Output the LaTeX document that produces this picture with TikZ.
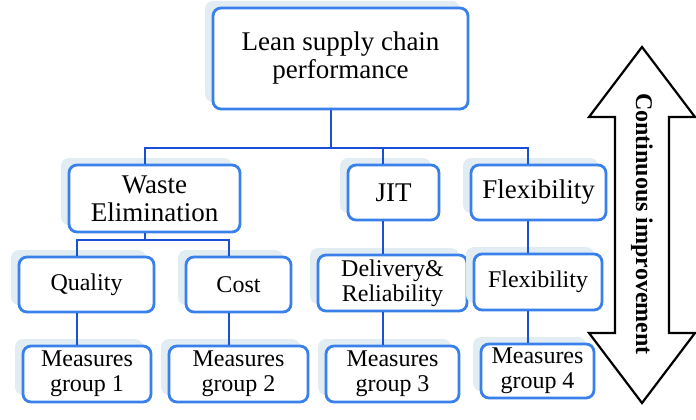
\documentclass[tikz,border=0pt]{standalone}
\usepackage{fontspec}
\setmainfont{Liberation Serif}
\usetikzlibrary{shadows}
\definecolor{boxblue}{RGB}{58,128,235}
\definecolor{connblue}{RGB}{26,80,214}
\definecolor{shadowc}{RGB}{225,236,243}
\tikzset{
  box/.style={draw=boxblue, line width=2.8pt, rounded corners=8pt, fill=white,
    inner sep=0pt, align=center,
    general shadow={fill=shadowc, draw=none, shadow xshift=-8pt, shadow yshift=7pt}},
  big/.style={font=\fontsize{27}{28}\selectfont},
  small/.style={font=\fontsize{24}{25}\selectfont},
  conn/.style={draw=connblue, line width=2.8pt},
}
\begin{document}
\begin{tikzpicture}[x=1pt,y=-1pt]
\useasboundingbox (0,0) rectangle (696,420);
% boxes
\node[box,big,minimum width=255pt,minimum height=101pt] (top) at (340.5,58.5) {Lean supply chain\\performance};
\node[box,big,minimum width=171pt,minimum height=67pt] (waste) at (154.5,198.5) {Waste\\Elimination};
\node[box,big,minimum width=91pt,minimum height=55pt] (jit) at (393.5,192.5) {JIT};
\node[box,big,minimum width=135pt,minimum height=55pt] (flex) at (538.5,192.5) {Flexibility};
\node[box,small,minimum width=135pt,minimum height=55pt] (quality) at (86.5,284.5) {Quality};
\node[box,small,minimum width=105pt,minimum height=55pt] (cost) at (238.5,284.5) {Cost};
\node[box,small,minimum width=149pt,minimum height=56pt] (deliv) at (392.5,283) {Delivery\&\\Reliability};
\node[box,small,minimum width=128pt,minimum height=56pt] (flex2) at (538,282) {Flexibility};
\node[box,small,minimum width=128pt,minimum height=56pt] (mg1) at (87,374) {Measures\\group 1};
\node[box,small,minimum width=139pt,minimum height=56pt] (mg2) at (238.5,374) {Measures\\group 2};
\node[box,small,minimum width=133pt,minimum height=56pt] (mg3) at (392.5,374) {Measures\\group 3};
\node[box,small,minimum width=113pt,minimum height=54pt] (mg4) at (537.5,371) {Measures\\group 4};
% connectors
\coordinate (b1) at (331,148);
\coordinate (b2) at (145,240);
\draw[conn] ([xshift=-9.5pt]top.south) -- (b1);
\draw[conn] ([xshift=-9.5pt]waste.north) |- ([xshift=-10.5pt]flex.north |- b1) -- ([xshift=-10.5pt]flex.north);
\draw[conn] ([xshift=-10.5pt]jit.north) -- ([xshift=-10.5pt]jit.north |- b1);
\draw[conn] ([xshift=-9.5pt]waste.south) -- (b2);
\draw[conn] ([xshift=-9.5pt]quality.north) |- ([xshift=-9.5pt]cost.north |- b2) -- ([xshift=-9.5pt]cost.north);
\draw[conn] ([xshift=-9.5pt]quality.south) -- ([xshift=-9.5pt]quality.south |- mg1.north);
\draw[conn] ([xshift=-9.5pt]cost.south) -- ([xshift=-9.5pt]cost.south |- mg2.north);
\draw[conn] ([xshift=-10.5pt]jit.south) -- ([xshift=-10.5pt]jit.south |- deliv.north);
\draw[conn] ([xshift=-9.5pt]deliv.south) -- ([xshift=-9.5pt]deliv.south |- mg3.north);
\draw[conn] ([xshift=-10.5pt]flex.south) -- ([xshift=-10.5pt]flex.south |- flex2.north);
\draw[conn] ([xshift=-10pt]flex2.south) -- ([xshift=-10pt]flex2.south |- mg4.north);
% double arrow
\draw[line width=2.2pt, line join=miter] (642,47) -- (695,117) -- (669,117) -- (669,333) -- (695,333)
  -- (642,403) -- (589,333) -- (615,333) -- (615,117) -- (589,117) -- cycle;
\node[rotate=-90, font=\fontsize{24}{25}\selectfont\bfseries] (ci) at (642,224) {Continuous improvement};
\end{tikzpicture}
\end{document}
